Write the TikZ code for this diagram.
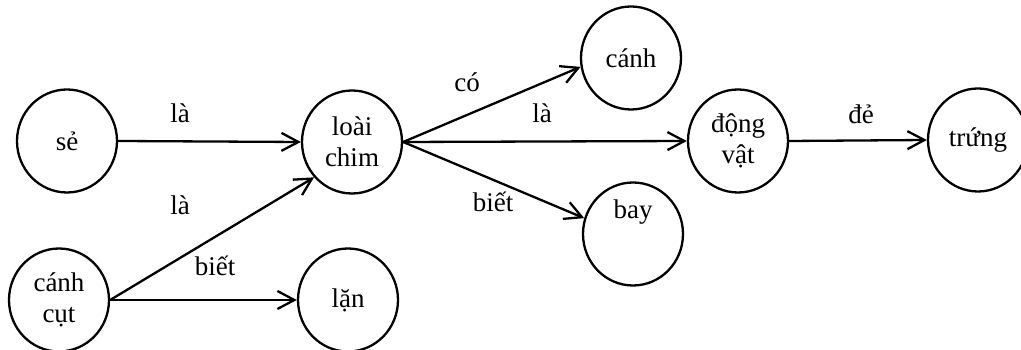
\documentclass[tikz,border=0pt]{standalone}
\usepackage{fontspec}
\setmainfont{Liberation Serif}
\usepackage{tikz}
\usetikzlibrary{shapes,arrows.meta,positioning,calc}

\begin{document}
\begin{tikzpicture}[x=1pt,y=1pt,
        every node/.style={font=\fontsize{27}{31}\selectfont, inner sep=0pt},
        concept/.style={draw, ellipse, line width=2.3pt, minimum width=100pt, minimum height=103pt, align=center},
        rel/.style={line width=2.3pt, -{Straight Barb[length=17pt,width=18pt]}}]
        \useasboundingbox (0,0) rectangle (1021,350);
        % concepts
        \node[concept] (se) at (67,209) {sẻ};
        \node[concept] (chim) at (352,208) {loài\\chim};
        \node[concept] (canhcut) at (59,50) {cánh\\cụt};
        \node[concept] (lan) at (348,50) {lặn};
        \node[concept] (canh) at (631,292) {cánh};
        \node[concept, text height=18pt, text depth=49pt] (bay) at (633,116) {bay};
        \node[concept] (dongvat) at (738,209) {động\\vật};
        \node[concept] (trung) at (978,210) {trứng};
        % relations
        \draw[rel] (se.east) to (chim.west);
        \draw[rel] (canhcut.east) to (chim.223);
        \draw[rel] (canhcut.east) to (lan.west);
        \draw[rel] (chim.east) to (canh.190);
        \draw[rel] (chim.east) to (dongvat.west);
        \draw[rel] (chim.east) to (bay.162);
        \draw[rel] (dongvat.east) to (trung.west);
        % labels
        \node (lbl1) at (180,237) {là};
        \node (lbl2) at (180,145) {là};
        \node (lbl3) at (215,84) {biết};
        \node (lbl4) at (467,268) {có};
        \node (lbl5) at (542,237) {là};
        \node (lbl6) at (493,148) {biết};
        \node (lbl7) at (861,236) {đẻ};
    \end{tikzpicture}
\end{document}
